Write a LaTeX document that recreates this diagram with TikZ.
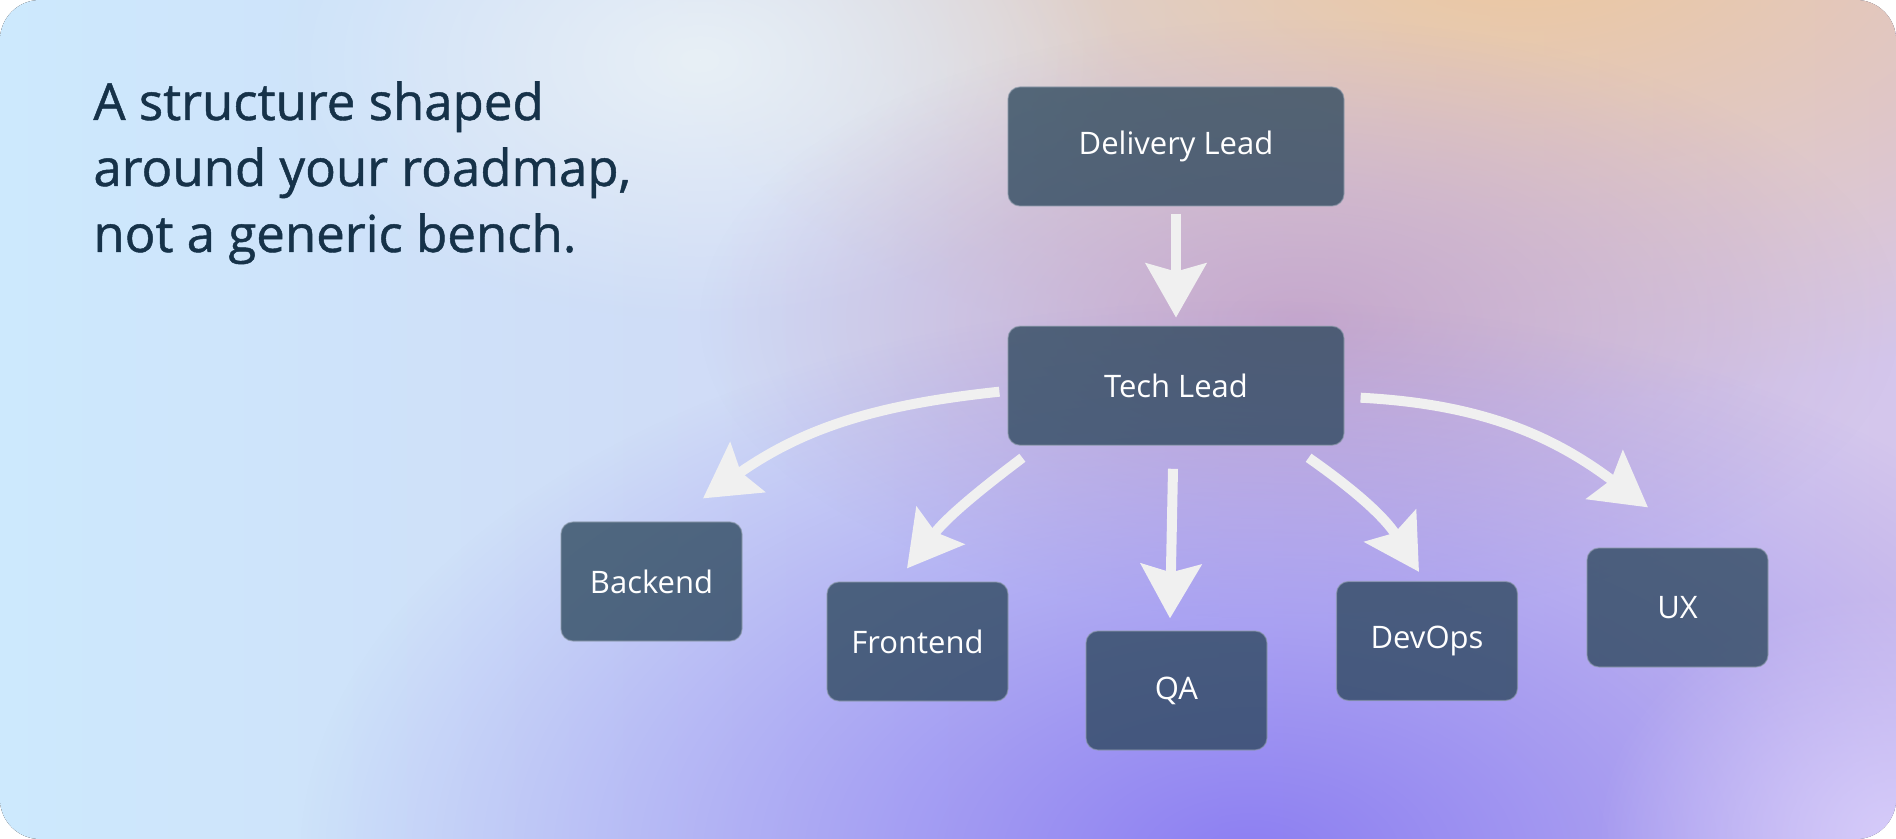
\documentclass[tikz,border=0pt]{standalone}
\usepackage{fontspec}
\setmainfont{Open Sans}
\newfontfamily\headfont[FakeBold=0.9]{Open Sans}
\usetikzlibrary{calc, positioning}
\usetikzlibrary{arrows.meta, fadings}

\definecolor{skyblue}{HTML}{CDE9FD}
\definecolor{mist}{HTML}{E0ECF6}
\definecolor{haze}{HTML}{E8F0F6}
\definecolor{lilac}{HTML}{D4C6EC}
\definecolor{peach}{HTML}{EEC89C}
\definecolor{mauve}{HTML}{C6A8CC}
\definecolor{violet}{HTML}{8C7EF2}
\definecolor{lavender}{HTML}{D6CCFA}
\definecolor{ink}{HTML}{163249}
\definecolor{boxfill}{HTML}{29455A}
\definecolor{boxline}{HTML}{8C9AAA}
\definecolor{arrowwhite}{HTML}{F0F0F0}

\tikzfading[name=glow fade, inner color=transparent!0, outer color=transparent!100]

\tikzset{
  font=\fontsize{15.5}{18}\selectfont,
  % Role box
  role/.style={draw=boxline, draw opacity=0.6, line width=0.6pt,
    fill=boxfill, fill opacity=0.76, text opacity=1, text=white,
    rounded corners=6pt, minimum height=59.5pt, minimum width=90.5pt,
    inner sep=0pt},
  % Wide role box
  lead/.style={role, minimum width=168pt},
  % Arrows
  link/.style={draw=arrowwhite, line width=5pt,
    -{Stealth[length=27pt, width=30pt, inset=4pt]}},
  % Background glow
  glow/.style={path fading=glow fade},
  % Heading
  title/.style={align=left, text=ink, inner sep=0pt,
    font=\headfont\fontsize{25.5}{33}\selectfont},
}

\begin{document}
\begin{tikzpicture}[x=0.5pt, y=0.5pt]
  \useasboundingbox (0,0) rectangle (1896,-839);

  % backdrop
  \begin{scope}
    \clip[rounded corners=20pt] (0,0) rectangle (1896,-839);
    \fill[left color=skyblue, middle color=mist, right color=lilac]
      (0,0) rectangle (1896,-839);
    \fill[peach, glow] (1520,60) ellipse [x radius=900, y radius=460];
    \fill[haze, glow] (700,-60) ellipse [x radius=420, y radius=260];
    \fill[mauve, glow] (1300,-320) ellipse [x radius=600, y radius=300];
    \fill[violet, glow] (1250,-860) ellipse [x radius=950, y radius=560];
    \fill[lavender, glow] (1896,-839) ellipse [x radius=300, y radius=250];
  \end{scope}

  \node[title, anchor=base west] (head) at (93,-252)
    {A structure shaped\\around your roadmap,\\not a generic bench.};

  \node[lead] (dl) at (1176,-146.5) {Delivery Lead};
  \node[lead, below=59.5pt of dl] (tl) {Tech Lead};
  \node[role] (be) at (651.5,-581.5) {Backend};
  \node[role] (fe) at (917.5,-641.5) {Frontend};
  \node[role] (qa) at (1176.5,-690.5) {QA};
  \node[role] (dv) at (1427,-641) {DevOps};
  \node[role] (ux) at (1677.5,-607.5) {UX};

  \draw[link] ($(dl.south)+(0,-7)$) -- ($(tl.north)+(0,8)$);
  \draw[link] ($(tl.west)+(-8,-6)$) to[out=186, in=35] ($(be.north)+(51.5,23)$);
  \draw[link] ($(tl.south west)+(15,-12)$) to[out=217, in=52] ($(fe.north)+(-10.5,13)$);
  \draw[link] ($(tl.south)+(-3,-23)$) -- ($(qa.north)+(-6.5,12)$);
  \draw[link] ($(tl.south east)+(-36,-12)$) to[out=-35, in=122] ($(dv.north)+(-8,9)$);
  \draw[link] ($(tl.east)+(16,-12)$) to[out=-3, in=143] ($(ux.north)+(-29.5,40)$);
\end{tikzpicture}
\end{document}
